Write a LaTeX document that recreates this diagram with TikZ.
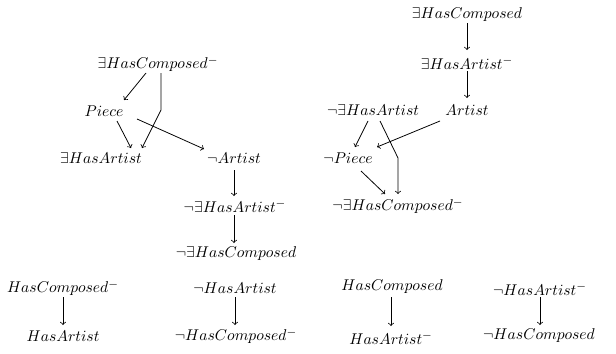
\documentclass[tikz,border=0pt]{standalone}
\usetikzlibrary{calc}
\begin{document}
\begin{tikzpicture}[x=0.641pt,y=-0.641pt,
  lbl/.style={inner sep=0pt,anchor=center},
  arr/.style={->,line width=0.5pt}]
\useasboundingbox (0,0) rectangle (616,353);
% left cluster
\node[lbl] (A1) at (158,64) {$\exists HasComposed^-$};
\node[lbl] (Pc) at (104,111) {$Piece$};
\node[lbl] (EHA) at (101,158) {$\exists HasArtist$};
\node[lbl] (nA) at (234,158) {$\neg Artist$};
\node[lbl] (nEHAi) at (235,206) {$\neg\exists HasArtist^-$};
\node[lbl] (nEHC) at (236,254) {$\neg\exists HasComposed$};
% right cluster
\node[lbl] (EHC) at (467,15) {$\exists HasComposed$};
\node[lbl] (EHAi) at (467,63) {$\exists HasArtist^-$};
\node[lbl] (nEHA) at (373,110) {$\neg\exists HasArtist$};
\node[lbl] (Ar) at (467,110) {$Artist$};
\node[lbl] (nPc) at (348,158) {$\neg Piece$};
\node[lbl] (nEHCi) at (398,206) {$\neg\exists HasComposed^-$};
% bottom pairs
\node[lbl] (HCi) at (63,288) {$HasComposed^-$};
\node[lbl] (HA) at (63,336) {$HasArtist$};
\node[lbl] (nHA) at (235,288) {$\neg HasArtist$};
\node[lbl] (nHCi) at (236,336) {$\neg HasComposed^-$};
\node[lbl] (HC) at (392,287) {$HasComposed$};
\node[lbl] (HAi) at (391,338) {$HasArtist^-$};
\node[lbl] (nHAi) at (540,289) {$\neg HasArtist^-$};
\node[lbl] (nHC) at (539,336) {$\neg HasComposed$};
% left edges
\draw[arr] ($(A1)+(-12,9)$) -- ($(Pc)+(20,-11)$);
\draw[arr] ($(A1)+(3,9)$) -- ($(A1)+(3,46)$) -- ($(EHA)+(41,-10)$);
\draw[arr] ($(Pc)+(13,10)$) -- ($(EHA)+(30,-10)$);
\draw[arr] ($(Pc)+(33,8)$) -- ($(nA)+(-30,-9)$);
\draw[arr] ($(nA)+(0,12)$) -- ($(nEHAi)+(-1,-10)$);
\draw[arr] ($(nEHAi)+(-1,9)$) -- ($(nEHC)+(-2,-11)$);
% right edges
\draw[arr] ($(EHC)+(0,8)$) -- ($(EHAi)+(0,-13)$);
\draw[arr] ($(EHAi)+(0,8)$) -- ($(Ar)+(0,-12)$);
\draw[arr] ($(nEHA)+(-5,11)$) -- ($(nPc)+(7,-11)$);
\draw[arr] ($(nEHA)+(7,11)$) -- ($(nEHCi)+(0,-48)$) -- ($(nEHCi)+(0,-12)$);
\draw[arr] ($(Ar)+(-27,11)$) -- ($(nPc)+(29,-11)$);
\draw[arr] ($(nPc)+(13,13)$) -- ($(nEHCi)+(-13,-12)$);
% bottom edges
\draw[arr] ($(HCi)+(0,9)$) -- ($(HA)+(0,-11)$);
\draw[arr] ($(nHA)+(0,9)$) -- ($(nHCi)+(-1,-11)$);
\draw[arr] ($(HC)+(-1,10)$) -- ($(HAi)+(0,-12)$);
\draw[arr] ($(nHAi)+(0,8)$) -- ($(nHC)+(1,-11)$);
\end{tikzpicture}
\end{document}
